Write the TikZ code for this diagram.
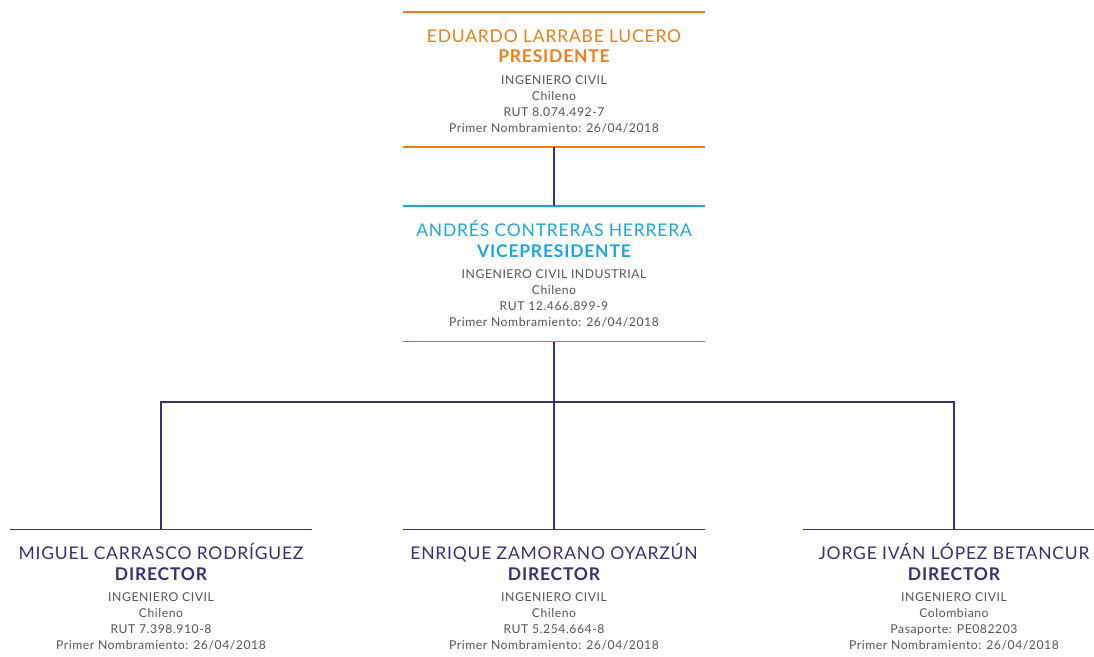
\documentclass[tikz,border=0pt]{standalone}
\usepackage{fontspec}
\setmainfont[LetterSpace=4.5]{Lato}
\usepackage{tikz}
\usetikzlibrary{positioning,calc}

\definecolor{naranjo}{HTML}{F07D1A}
\definecolor{celeste}{HTML}{1BA6E0}
\definecolor{morado}{HTML}{3B2F78}
\definecolor{gristexto}{HTML}{555555}

\tikzset{
  cargo/.style={minimum width=302pt, minimum height=135pt, inner sep=0pt,
    align=center, text=gristexto, font=\fontsize{12.2}{16}\selectfont},
  raya/.style={line width=1.6pt},
  enlace/.style={line width=1.4pt, draw=morado}
}
% nombre y cargo en dos lineas, arriba del detalle
\newcommand{\titular}[3]{{\color{#1}\fontsize{17.5}{21}\selectfont\rule{0pt}{15.8pt}#2}\\[4.5pt]
  {\color{#1}\bfseries\fontsize{17.5}{21}\selectfont #3}\\[5.5pt]}

\begin{document}
\begin{tikzpicture}[x=1pt,y=1pt]
\useasboundingbox (0,0) rectangle (1094,656);

\node[cargo] (pres) at (554,576.5) {\titular{naranjo}{EDUARDO LARRABE LUCERO}{PRESIDENTE}
  INGENIERO CIVIL\\ Chileno\\ RUT 8.074.492-7\\ Primer Nombramiento: 26/04/2018};
\node[cargo] (vice) at (554,382) {\titular{celeste}{ANDRÉS CONTRERAS HERRERA}{VICEPRESIDENTE}
  INGENIERO CIVIL INDUSTRIAL\\ Chileno\\ RUT 12.466.899-9\\ Primer Nombramiento: 26/04/2018};

\node[cargo] (dir1) at (161,59) {\titular{morado}{MIGUEL CARRASCO RODRÍGUEZ}{DIRECTOR}
  INGENIERO CIVIL\\ Chileno\\ RUT 7.398.910-8\\ Primer Nombramiento: 26/04/2018};
\node[cargo] (dir2) at (554,59) {\titular{morado}{ENRIQUE ZAMORANO OYARZÚN}{DIRECTOR}
  INGENIERO CIVIL\\ Chileno\\ RUT 5.254.664-8\\ Primer Nombramiento: 26/04/2018};
\node[cargo] (dir3) at (954,59) {\titular{morado}{JORGE IVÁN LÓPEZ BETANCUR}{DIRECTOR}
  INGENIERO CIVIL\\ Colombiano\\ Pasaporte: PE082203\\ Primer Nombramiento: 26/04/2018};

% rayas de cada cargo
\draw[raya,draw=naranjo] (pres.north west) -- (pres.north east);
\draw[raya,draw=naranjo] (pres.south west) -- (pres.south east);
\draw[raya,draw=celeste] (vice.north west) -- (vice.north east);
\draw[raya,draw=celeste] (vice.south west) -- (vice.south east);
\draw[raya,draw=morado] (dir1.north west) -- (dir1.north east);
\draw[raya,draw=morado] (dir2.north west) -- (dir2.north east);
\draw[raya,draw=morado] (dir3.north west) -- (dir3.north east);

% conectores
\coordinate (barra) at (554,254);
\draw[enlace] (pres.south) -- (vice.north);
\draw[enlace] (vice.south) -- (dir2.north);
\draw[enlace] (dir1.north) |- (barra) -| (dir3.north);
\end{tikzpicture}
\end{document}
